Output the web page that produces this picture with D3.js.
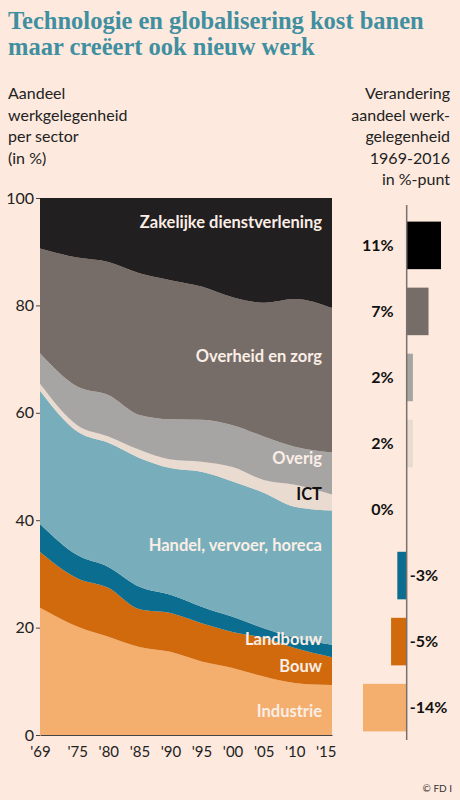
<!DOCTYPE html>
<html>
<head>
<meta charset="utf-8">
<script src="https://cdn.jsdelivr.net/npm/d3@7"></script>
<style>
  body { margin: 0; background: #fde9dd; }
  svg { display: block; }
</style>
</head>
<body>
<svg id="chart" width="460" height="800"></svg>
<script>
"use strict";

var years = [1969, 1975, 1980, 1985, 1990, 1995, 2000, 2005, 2010, 2016];
var sectors = ["Industrie", "Bouw", "Landbouw", "Handel", "ICT", "Overig", "Overheid", "Zakelijk"];
var industrie = [23.7, 20.2, 18.3, 16.4, 15.5, 13.7, 12.5, 10.9, 9.7, 9.3];
var bouw      = [10.4, 9.0, 9.1, 7.0, 7.2, 7.1, 6.7, 7.2, 6.5, 5.2];
var landbouw  = [5.2, 4.3, 3.9, 4.2, 3.4, 3.1, 2.8, 1.8, 1.9, 2.3];
var handel    = [24.8, 23.0, 23.1, 24.0, 23.6, 25.1, 25.2, 25.2, 24.4, 25.0];
var ict       = [1.3, 1.2, 1.2, 1.5, 1.6, 1.9, 2.7, 2.4, 4.1, 3.0];
var overig    = [5.7, 7.2, 7.7, 6.5, 7.5, 7.8, 7.8, 8.1, 7.1, 7.8];
var overheid  = [19.5, 24.0, 24.8, 26.4, 25.9, 24.8, 23.8, 24.9, 27.5, 26.9];
var zakelijk  = [9.4, 11.1, 11.9, 14.0, 15.3, 16.5, 18.5, 19.5, 18.8, 20.5];

var xTickYears = [1969, 1975, 1980, 1985, 1990, 1995, 2000, 2005, 2010, 2015];
var yTicks = [0, 20, 40, 60, 80, 100];

// change 1969-2016, top to bottom as in the bar panel
var changeNames = ["Zakelijk", "Overheid", "Overig", "ICT", "Handel", "Landbouw", "Bouw", "Industrie"];
var changeValues = [11, 7, 2, 2, 0, -3, -5, -14];

var colors = {
  Industrie: "#f4ae6e", Bouw: "#d06a0c", Landbouw: "#0b6d8f", Handel: "#78aebb",
  ICT: "#eadbd0", Overig: "#a7a5a4", Overheid: "#766d68", Zakelijk: "#221f20"
};
var labels = [
  { name: "Zakelijke dienstverlening", at: 95.5, fill: "#fbeee6" },
  { name: "Overheid en zorg", at: 70.5, fill: "#fbeee6" },
  { name: "Overig", at: 51.6, fill: "#fbeee6" },
  { name: "ICT", at: 44.8, fill: "#111" },
  { name: "Handel, vervoer, horeca", at: 35.4, fill: "#fbeee6" },
  { name: "Landbouw", at: 17.9, fill: "#fbeee6" },
  { name: "Bouw", at: 12.8, fill: "#fbeee6" },
  { name: "Industrie", at: 4.5, fill: "#fbeee6" }
];

var series = [industrie, bouw, landbouw, handel, ict, overig, overheid, zakelijk];
var rows = years.map(function (y, i) {
  var r = { year: y };
  sectors.forEach(function (s, k) { r[s] = series[k][i]; });
  return r;
});

var svg = d3.select("#chart");
var sans = "Lato, 'Open Sans', sans-serif";

// title
svg.append("text").attr("x", 8).attr("y", 29)
  .attr("font-family", "'Liberation Serif', serif").attr("font-weight", "bold")
  .attr("font-size", 24.5).attr("fill", "#3f8fa0")
  .text("Technologie en globalisering kost banen");
svg.append("text").attr("x", 8).attr("y", 55)
  .attr("font-family", "'Liberation Serif', serif").attr("font-weight", "bold")
  .attr("font-size", 24.5).attr("fill", "#3f8fa0")
  .text("maar creëert ook nieuw werk");

["Aandeel", "werkgelegenheid", "per sector", "(in %)"].forEach(function (t, i) {
  svg.append("text").attr("x", 8).attr("y", 99 + i * 21.5)
    .attr("font-family", sans).attr("font-size", 16).attr("fill", "#222").text(t);
});
["Verandering", "aandeel werk-", "gelegenheid", "1969-2016", "in %-punt"].forEach(function (t, i) {
  svg.append("text").attr("x", 450).attr("y", 99 + i * 21.5).attr("text-anchor", "end")
    .attr("font-family", sans).attr("font-size", 16).attr("fill", "#222").text(t);
});

// stacked area
var x = d3.scaleLinear().domain([1969, 2016]).range([40, 332]);
var y = d3.scaleLinear().domain([0, 100]).range([735, 198]);

var stack = d3.stack().keys(sectors);
var area = d3.area()
  .curve(d3.curveMonotoneX)
  .x(function (d) { return x(d.data.year); })
  .y0(function (d) { return y(d[0]); })
  .y1(function (d) { return y(d[1]); });

svg.append("g").selectAll("path").data(stack(rows)).enter().append("path")
  .attr("fill", function (d) { return colors[d.key]; })
  .attr("d", area);

labels.forEach(function (l) {
  svg.append("text").attr("x", 322).attr("y", y(l.at)).attr("dy", "0.35em")
    .attr("text-anchor", "end").attr("font-family", sans).attr("font-weight", "bold")
    .attr("font-size", 16.5).attr("fill", l.fill).text(l.name);
});

// axes
var xAxis = svg.append("g").attr("transform", "translate(0,735)")
  .call(d3.axisBottom(x).tickValues(xTickYears).tickSize(0).tickPadding(11)
    .tickFormat(function (d) { return "'" + String(d).slice(2); }));
xAxis.select(".domain").attr("stroke", "#444");
xAxis.selectAll("text").attr("font-family", sans).attr("font-size", 15).attr("fill", "#222");

var yAxis = svg.append("g").attr("transform", "translate(40,0)")
  .call(d3.axisLeft(y).tickValues(yTicks).tickSize(4).tickPadding(2));
yAxis.select(".domain").remove();
yAxis.selectAll("line").attr("stroke", "#444");
yAxis.selectAll("text").attr("font-family", sans).attr("font-size", 16).attr("fill", "#222");

// change bars
var bx = d3.scaleLinear().domain([-14, 11]).range([363, 441]);
var by = d3.scaleBand().domain(changeNames).range([215, 738]).paddingInner(0.28).paddingOuter(0.1);

svg.append("g").selectAll("rect").data(changeNames).enter().append("rect")
  .attr("x", function (d, i) { return Math.min(bx(0), bx(changeValues[i])); })
  .attr("width", function (d, i) { return Math.abs(bx(changeValues[i]) - bx(0)); })
  .attr("y", function (d) { return by(d); })
  .attr("height", by.bandwidth())
  .attr("fill", function (d) { return colors[d] === "#221f20" ? "#000" : colors[d]; });

svg.append("line").attr("x1", bx(0)).attr("x2", bx(0)).attr("y1", 205).attr("y2", 740)
  .attr("stroke", "#7a706b").attr("stroke-width", 1.5);

svg.append("g").selectAll("text").data(changeNames).enter().append("text")
  .attr("x", function (d, i) { return changeValues[i] < 0 ? bx(0) + 3 : bx(0) - 13; })
  .attr("y", function (d) { return by(d) + by.bandwidth() / 2; })
  .attr("dy", "0.35em")
  .attr("text-anchor", function (d, i) { return changeValues[i] < 0 ? "start" : "end"; })
  .attr("font-family", sans).attr("font-weight", "bold").attr("font-size", 16).attr("fill", "#111")
  .text(function (d, i) { return changeValues[i] + "%"; });

svg.append("text").attr("x", 452).attr("y", 792).attr("text-anchor", "end")
  .attr("font-family", sans).attr("font-size", 10).attr("fill", "#333").text("© FD I");
</script>
</body>
</html>
